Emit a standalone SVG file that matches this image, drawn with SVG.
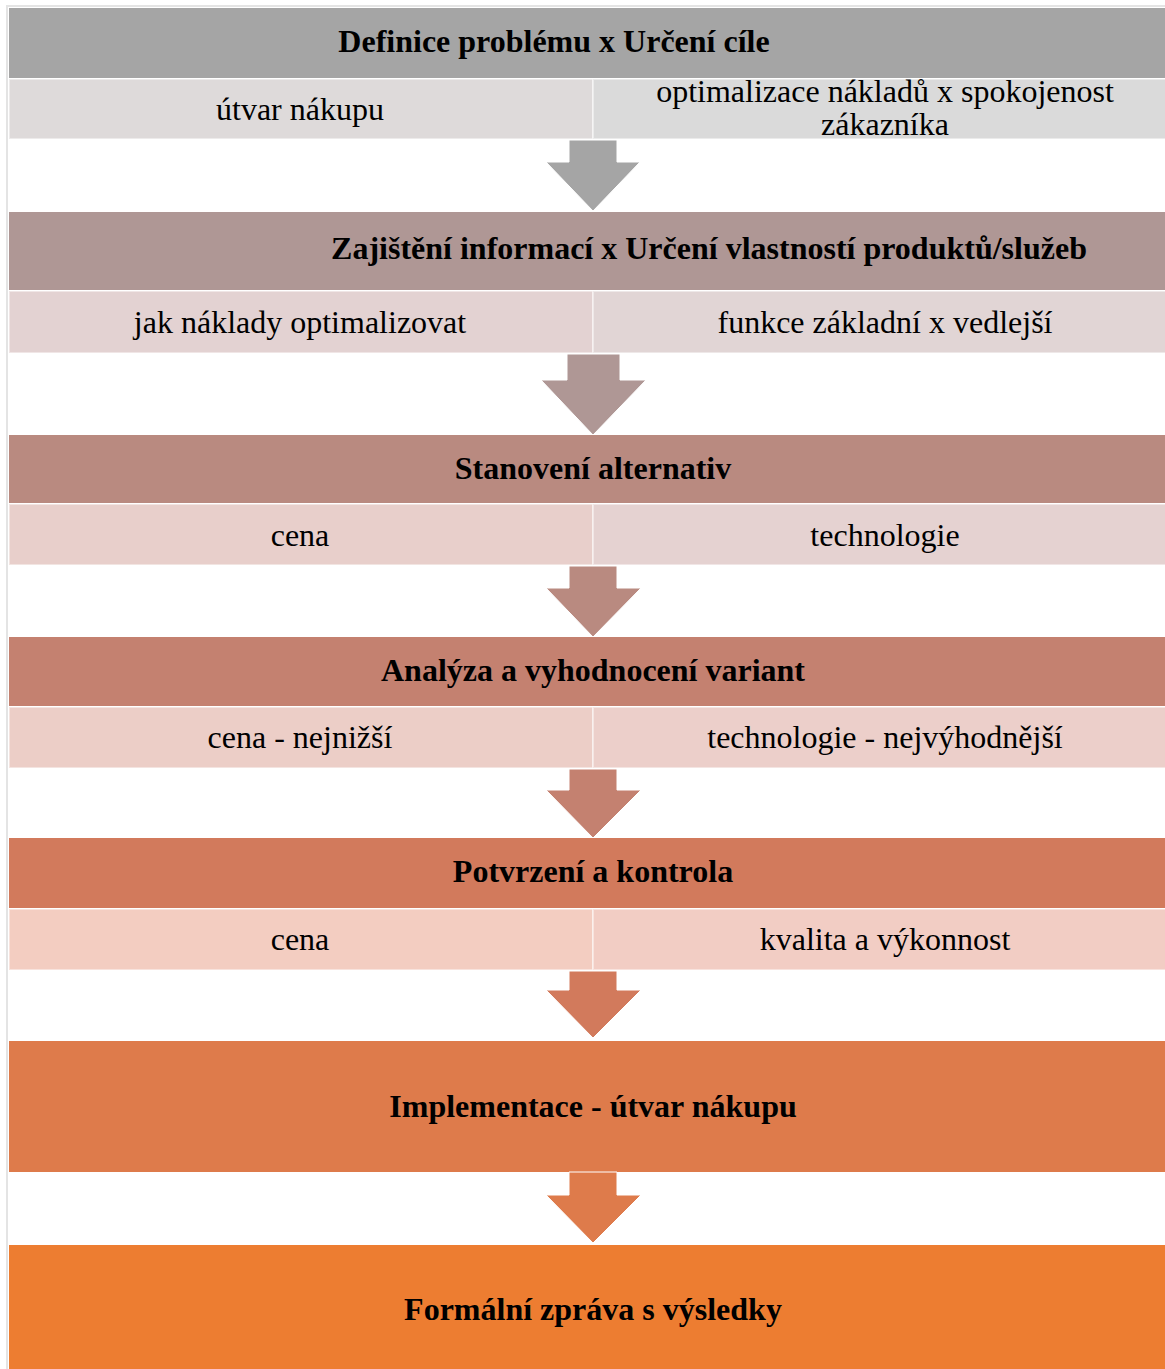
<svg xmlns="http://www.w3.org/2000/svg" width="1165" height="1369" viewBox="0 0 1165 1369">
<style>
.h{font-family:"Liberation Serif","Times New Roman",serif;font-size:32px;font-weight:bold;fill:#000;text-anchor:middle}
.t{font-family:"Liberation Serif","Times New Roman",serif;font-size:32px;fill:#000;text-anchor:middle}
.c{stroke:#ffffff;stroke-opacity:0.45;stroke-width:2}
.a{stroke:#ffffff;stroke-width:1}
</style>
<rect x="0" y="0" width="1165" height="1369" fill="#ffffff"/>
<path d="M7,1369 V6 H1165" fill="none" stroke="#e4e4e4" stroke-width="2"/>
<g id="stage1">
<rect x="9" y="8" width="1170" height="70" fill="#a5a5a5"/>
<rect class="c" x="9" y="79" width="584" height="60" fill="#dedada"/>
<rect class="c" x="593" y="79" width="586" height="60" fill="#dadada"/>
<text class="h" x="554" y="52">Definice problému x Určení cíle</text>
<text class="t" x="300" y="120">útvar nákupu</text>
<text class="t" x="885" y="102">optimalizace nákladů x spokojenost</text>
<text class="t" x="885" y="135">zákazníka</text>
</g>
<g id="stage2">
<rect x="9" y="212" width="1170" height="78" fill="#af9795"/>
<rect class="c" x="9" y="291" width="584" height="62" fill="#e3d2d2"/>
<rect class="c" x="593" y="291" width="586" height="62" fill="#e1d5d5"/>
<text class="h" x="709" y="259">Zajištění informací x Určení vlastností produktů/služeb</text>
<text class="t" x="300" y="333">jak náklady optimalizovat</text>
<text class="t" x="885" y="333">funkce základní x vedlejší</text>
</g>
<g id="stage3">
<rect x="9" y="435" width="1170" height="68" fill="#b98a80"/>
<rect class="c" x="9" y="504" width="584" height="61" fill="#e8cfcb"/>
<rect class="c" x="593" y="504" width="586" height="61" fill="#e5d2d1"/>
<text class="h" x="593" y="479">Stanovení alternativ</text>
<text class="t" x="300" y="546">cena</text>
<text class="t" x="885" y="546">technologie</text>
</g>
<g id="stage4">
<rect x="9" y="637" width="1170" height="69" fill="#c48170"/>
<rect class="c" x="9" y="707" width="584" height="61" fill="#eccec7"/>
<rect class="c" x="593" y="707" width="586" height="61" fill="#eccfca"/>
<text class="h" x="593" y="681">Analýza a vyhodnocení variant</text>
<text class="t" x="300" y="748">cena - nejnižší</text>
<text class="t" x="885" y="748">technologie - nejvýhodnější</text>
</g>
<g id="stage5">
<rect x="9" y="838" width="1170" height="70" fill="#d27a5c"/>
<rect class="c" x="9" y="909" width="584" height="61" fill="#f3cdc1"/>
<rect class="c" x="593" y="909" width="586" height="61" fill="#f2cdc4"/>
<text class="h" x="593" y="882">Potvrzení a kontrola</text>
<text class="t" x="300" y="950">cena</text>
<text class="t" x="885" y="950">kvalita a výkonnost</text>
</g>
<g id="stage6">
<rect x="9" y="1041" width="1170" height="131" fill="#de7b4b"/>
<text class="h" x="593" y="1117">Implementace - útvar nákupu</text>
</g>
<g id="stage7">
<rect x="9" y="1245" width="1170" height="130" fill="#ed7d31"/>
<text class="h" x="593" y="1320">Formální zpráva s výsledky</text>
</g>
<g id="connectors">
<polygon class="a" fill="#a5a5a5" points="569,140 617,140 617,162 640,162 593,211 546,162 569,162"/>
<polygon class="a" fill="#af9795" points="567,354 620,354 620,380 646,380 593,435 541,380 567,380"/>
<polygon class="a" fill="#b98a80" points="569,566 617,566 617,588 641,588 593,637 546,588 569,588"/>
<polygon class="a" fill="#c48170" points="569,769 617,769 617,790 641,790 593,838 546,790 569,790"/>
<polygon class="a" fill="#d27a5c" points="569,971 617,971 617,990 641,990 593,1038 546,990 569,990"/>
<polygon class="a" fill="#de7b4b" points="569,1172 617,1172 617,1195 641,1195 593,1243 546,1195 569,1195"/>
</g>
</svg>
